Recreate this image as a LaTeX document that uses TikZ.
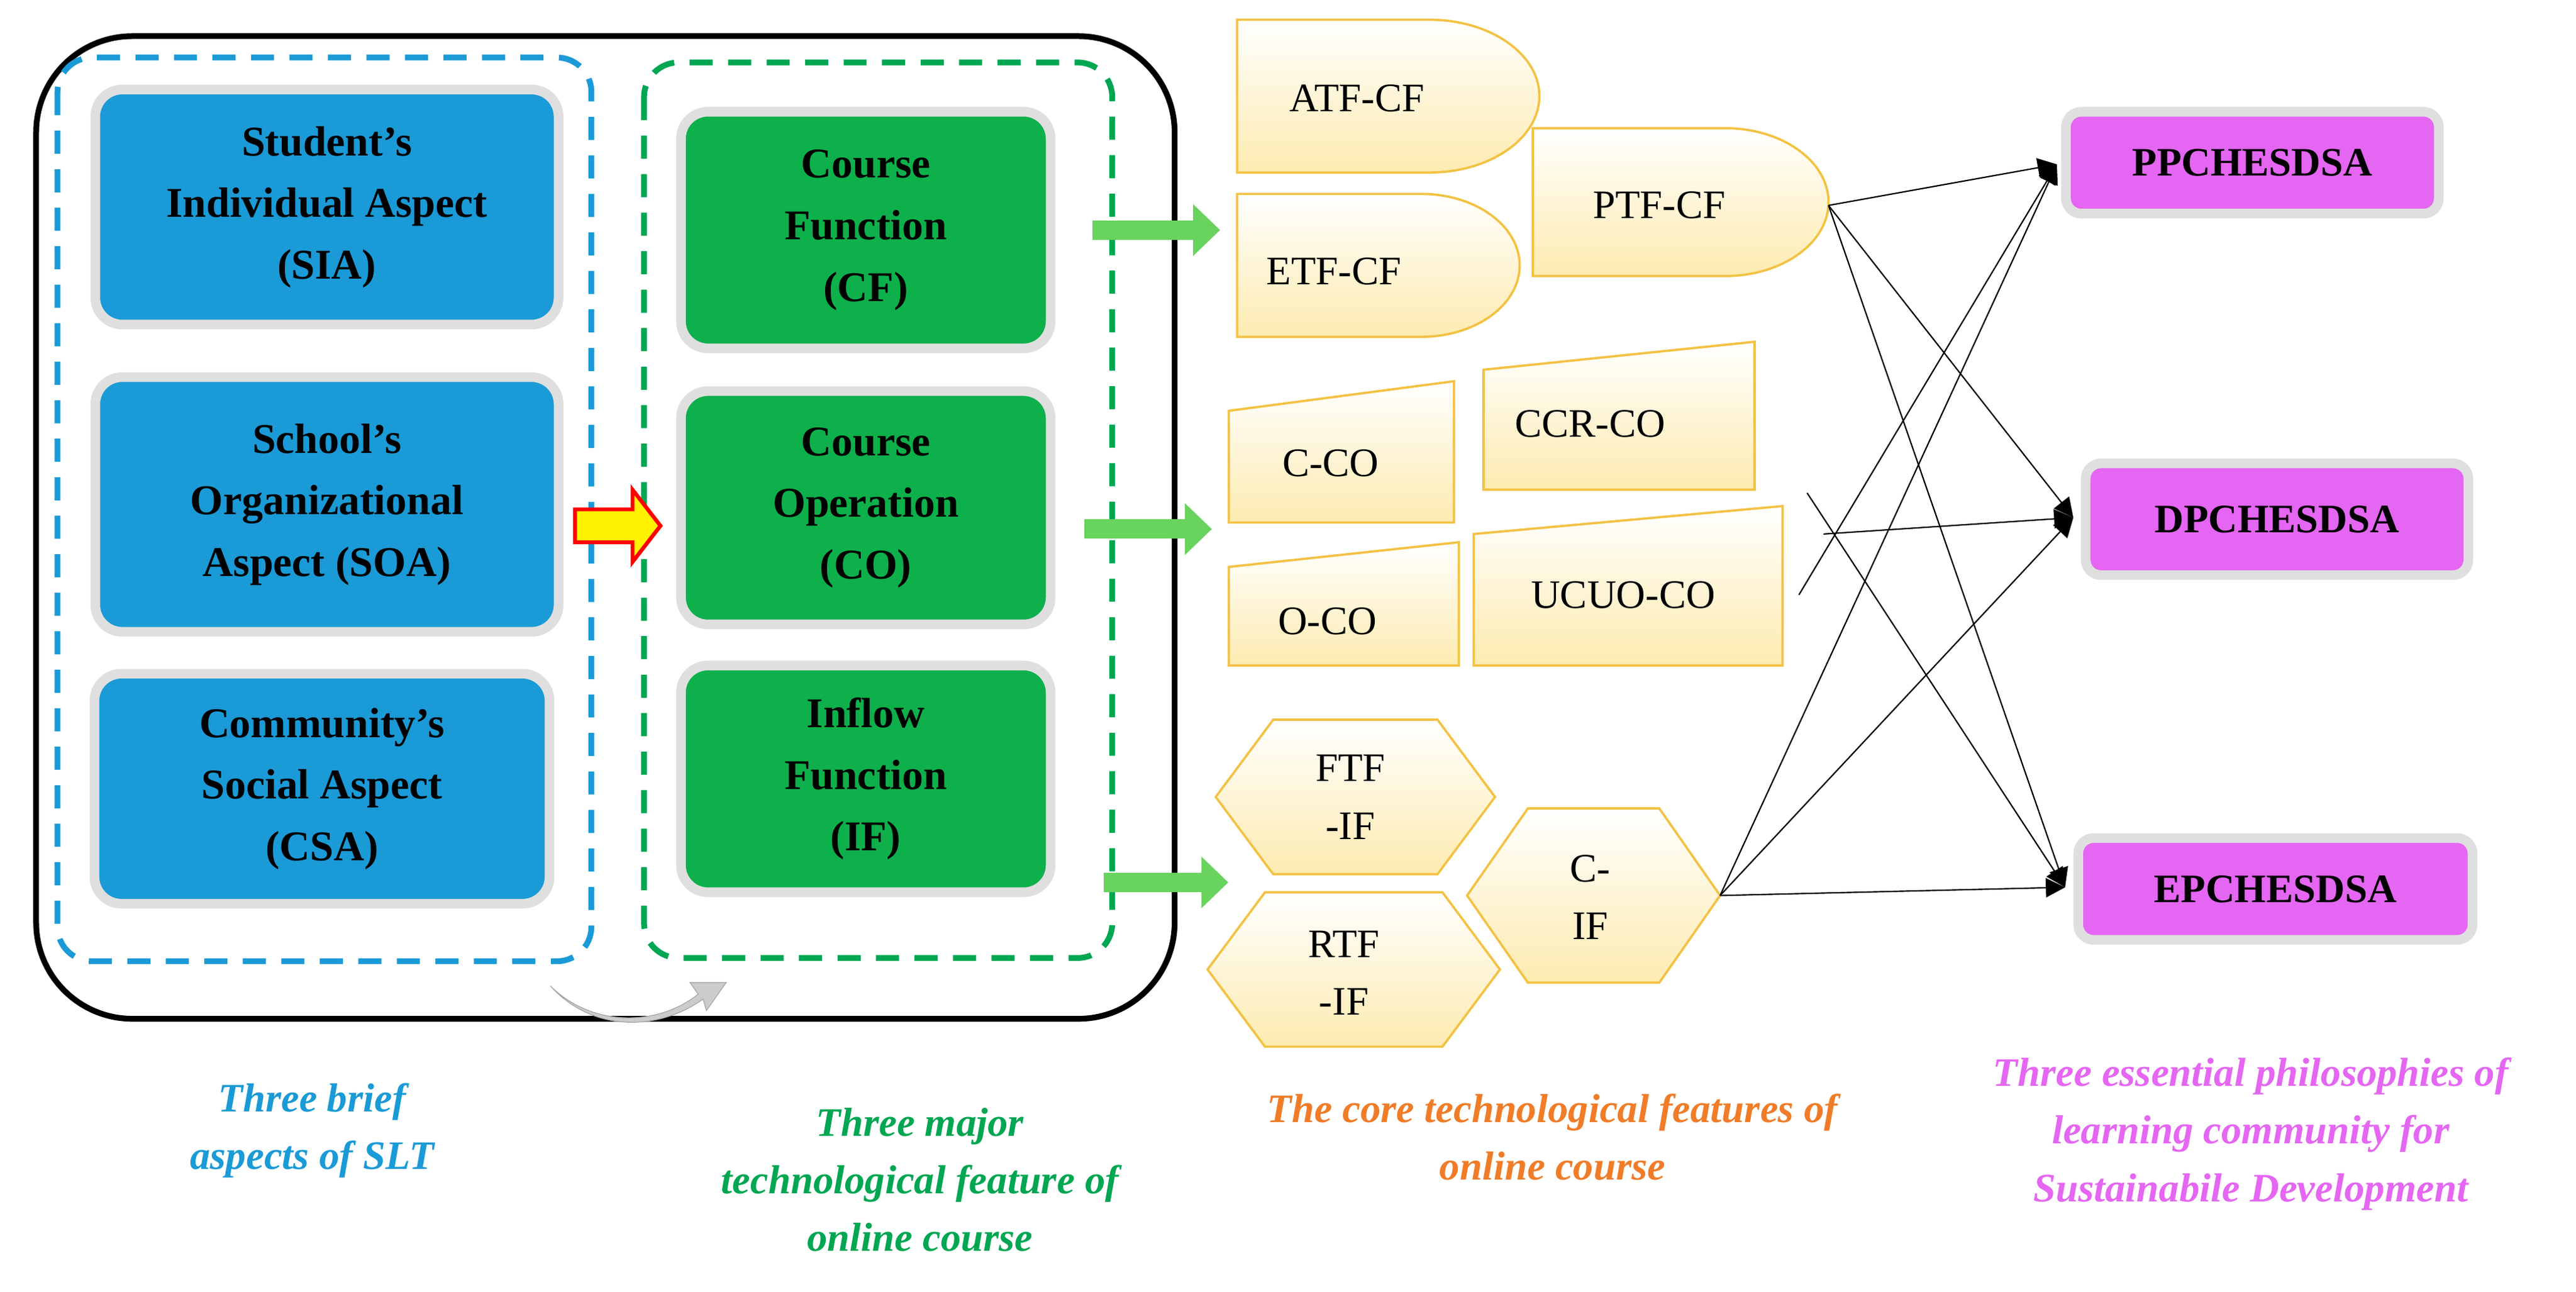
\documentclass[tikz,border=0pt]{standalone}
\usepackage{fontspec}
\setmainfont{Liberation Serif}
\usetikzlibrary{shapes.geometric,arrows.meta,shadows}
\definecolor{bl}{HTML}{1A9AD6}
\definecolor{gr}{HTML}{0DB04B}
\definecolor{pk}{HTML}{E466F2}
\definecolor{yf}{HTML}{FDEBB0}
\definecolor{yb}{HTML}{F3C244}
\definecolor{org}{HTML}{F07C28}
\definecolor{dg}{HTML}{00A651}
\begin{document}
\begin{tikzpicture}[x=0.03cm,y=-0.03cm,
 box/.style={draw=gray!25,line width=5pt,rounded corners=14pt,text=black,font=\fontsize{22}{32}\selectfont\bfseries,align=center,inner sep=0pt},
 blu/.style={box,fill=bl},
 grn/.style={box,fill=gr},
 pnk/.style={box,fill=pk,font=\fontsize{21}{28}\selectfont\bfseries,rounded corners=8pt},
 ylw/.style={draw=yb,line width=1.2pt,top color=white,bottom color=yf},
 yt/.style={font=\fontsize{21}{30}\selectfont,align=center},
 lab/.style={font=\fontsize{21}{30}\selectfont\bfseries\itshape,align=center},
 fat/.style={-{Triangle[length=14pt,width=26pt]},line width=10pt,draw=gr!70!lime!80!white,shorten >=2pt},
 con/.style={-{Triangle[length=10pt,width=10pt]},line width=0.7pt}]
\useasboundingbox (0,0) rectangle (1568,786);
% big frame
\draw[line width=3pt,rounded corners=50pt] (22,22) rectangle (715,620);
\draw[bl,line width=3pt,dash pattern=on 12pt off 8pt,rounded corners=18pt] (35,35) rectangle (360,585);
\draw[dg,line width=3pt,dash pattern=on 12pt off 8pt,rounded corners=18pt] (392,38) rectangle (677,583);
% blue
\node[blu,minimum width=282*0.03cm,minimum height=143*0.03cm] (sia) at (199,126) {Student's\\Individual Aspect\\(SIA)};
\node[blu,minimum width=282*0.03cm,minimum height=155*0.03cm] (soa) at (199,307) {School's\\Organizational\\Aspect (SOA)};
\node[blu,minimum width=277*0.03cm,minimum height=140*0.03cm] (csa) at (196,480) {Community's\\Social Aspect\\(CSA)};
% green
\node[grn,minimum width=225*0.03cm,minimum height=144*0.03cm] (cf) at (527,140) {Course\\Function\\(CF)};
\node[grn,minimum width=225*0.03cm,minimum height=142*0.03cm] (co) at (527,309) {Course\\Operation\\(CO)};
\node[grn,minimum width=225*0.03cm,minimum height=138*0.03cm] (if) at (527,474) {Inflow\\Function\\(IF)};
% red arrow
\draw[red,line width=2pt,fill=yellow] (350,310)--(385,310)--(385,298)--(402,320)--(385,342)--(385,330)--(350,330)--cycle;
% curved gray arrow
\draw[gray!70,fill=gray!40] (335,600) .. controls (360,625) and (400,625) .. (425,605) -- (420,598) -- (442,598) -- (430,615) -- (428,608) .. controls (400,628) and (360,628) .. (335,600);
% green arrows
\coordinate (a1s) at (665,140); \coordinate (a1e) at (745,140);
\coordinate (a2s) at (660,322); \coordinate (a2e) at (740,322);
\coordinate (a3s) at (672,537); \coordinate (a3e) at (750,537);
\draw[fat] (a1s)--(a1e); \draw[fat] (a2s)--(a2e); \draw[fat] (a3s)--(a3e);
% D shapes
\draw[ylw] (753,12)--(870,12) arc[start angle=-90,end angle=90,x radius=67,y radius=46.5]--(753,105)--cycle;
\node[yt] (atf) at (826,60) {ATF-CF};
\draw[ylw] (753,118)--(865,118) arc[start angle=-90,end angle=90,x radius=60,y radius=43.5]--(753,205)--cycle;
\node[yt] (etf) at (812,165) {ETF-CF};
\draw[ylw] (933,78)--(1050,78) arc[start angle=-90,end angle=90,x radius=63,y radius=45]--(933,168)--cycle;
\node[yt] (ptf) at (1010,125) {PTF-CF};
\coordinate (ptfo) at (1113,125);
% slanted boxes
\draw[ylw] (748,250)--(885,232)--(885,318)--(748,318)--cycle; \node[yt] (cco) at (810,282) {C-CO};
\draw[ylw] (903,225)--(1068,208)--(1068,298)--(903,298)--cycle; \node[yt] (ccr) at (968,258) {CCR-CO};
\draw[ylw] (748,345)--(888,330)--(888,405)--(748,405)--cycle; \node[yt] (oco) at (808,378) {O-CO};
\draw[ylw] (897,325)--(1085,308)--(1085,405)--(897,405)--cycle; \node[yt] (ucuo) at (988,362) {UCUO-CO};
% hexagons
\draw[ylw] (740,485)--(775,438)--(875,438)--(910,485)--(875,532)--(775,532)--cycle; \node[yt] (ftf) at (822,485) {FTF\\-IF};
\draw[ylw] (735,590)--(770,543)--(878,543)--(913,590)--(878,637)--(770,637)--cycle; \node[yt] (rtf) at (818,592) {RTF\\-IF};
\draw[ylw] (893,545)--(930,492)--(1010,492)--(1047,545)--(1010,598)--(930,598)--cycle; \node[yt] (cif) at (968,546) {C-\\IF};
\coordinate (cifo) at (1047,545);
% pink
\node[pnk,minimum width=227*0.03cm,minimum height=62*0.03cm] (pp) at (1371,99) {PPCHESDSA};
\node[pnk,minimum width=233*0.03cm,minimum height=68*0.03cm] (dp) at (1386,316) {DPCHESDSA};
\node[pnk,minimum width=240*0.03cm,minimum height=62*0.03cm] (ep) at (1385,541) {EPCHESDSA};
\coordinate (ppi) at (1252,100); \coordinate (dpi) at (1262,315); \coordinate (epi) at (1257,540);
\coordinate (u1) at (1095,362); \coordinate (u2) at (1110,325); \coordinate (u3) at (1100,300);
\foreach \s in {ptfo,cifo}{\draw[con] (\s)--(ppi); \draw[con] (\s)--(dpi); \draw[con] (\s)--(epi);}
\draw[con] (u1)--(ppi); \draw[con] (u2)--(dpi); \draw[con] (u3)--(epi);
% labels
\node[lab,text=bl] (l1) at (190,688) {Three brief\\aspects of SLT};
\node[lab,text=dg] (l2) at (560,718) {Three major\\technological feature of\\online course};
\node[lab,text=org] (l3) at (945,692) {The core technological features of\\online course};
\node[lab,text=pk] (l4) at (1370,690) {Three essential philosophies of\\learning community for\\Sustainabile Development};
\end{tikzpicture}
\end{document}
